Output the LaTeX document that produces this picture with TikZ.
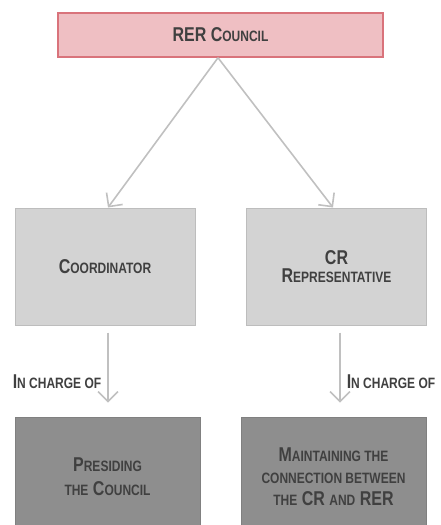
\documentclass[tikz,border=0pt]{standalone}
\usepackage{fontspec}
\newfontfamily\orgfont[FakeStretch=0.8]{Liberation Sans}
\usetikzlibrary{arrows.meta}
\definecolor{councilfill}{HTML}{EFBFC3}
\definecolor{councildraw}{HTML}{D9737B}
\definecolor{rolefill}{HTML}{D3D3D3}
\definecolor{roledraw}{HTML}{BDBDBD}
\definecolor{taskfill}{HTML}{8E8E8E}
\definecolor{linkgray}{HTML}{C0C0C0}
\definecolor{inkgray}{HTML}{404040}
% fake small caps: the rest of a word one size down
\newcommand{\scap}[1]{{\fontsize{15}{17}\selectfont #1}}
\tikzset{
council/.style={
       rectangle,
       fill=councilfill,
       draw=councildraw, line width=1.5pt,
       minimum width=325pt, minimum height=44pt,
       text=inkgray,
       font=\orgfont\bfseries\fontsize{20}{20}\selectfont,
       },
role/.style={
       rectangle,
       fill=rolefill,
       draw=roledraw, line width=1pt,
       minimum width=180pt, minimum height=117pt,
       align=center,
       text=inkgray,
       font=\orgfont\bfseries\fontsize{20}{18}\selectfont,
       },
task/.style={
       rectangle,
       fill=taskfill,
       draw=taskfill!90!black, line width=0.6pt,
       minimum width=185pt, minimum height=120pt,
       align=center,
       text=inkgray,
       font=\orgfont\bfseries\fontsize{20}{24}\selectfont,
       },
link/.style={
       draw=linkgray, line width=1.6pt,
       -{Straight Barb[length=10pt, width=20pt]},
       },
duty/.style={
       inner sep=0pt,
       text=inkgray,
       font=\orgfont\bfseries\fontsize{20}{20}\selectfont,
       },
}

\begin{document}
\begin{tikzpicture}[x=1pt, y=-1pt]
      \useasboundingbox (0,0) rectangle (441,525);

      \node [council] (council) at (220.5,35) {RER C\scap{OUNCIL}};

      \node [role] (coord) at (105,266.5) {C\scap{OORDINATOR}};
      \node [role] (crrep) at (336.5,266.5) {CR\\R\scap{EPRESENTATIVE}};

      \node [task] (presid) at (107.5,477) {P\scap{RESIDING}\\\scap{THE} C\scap{OUNCIL}};
      \node [task, font=\orgfont\bfseries\fontsize{20}{22}\selectfont] (maint) at (333.5,477)
            {M\scap{AINTAINING THE}\\\scap{CONNECTION BETWEEN}\\\scap{THE} CR \scap{AND} RER};

      % council to the two roles
      \draw [link] ([xshift=-2.5pt]council.south) -- ([xshift=3pt]coord.north);
      \draw [link] ([xshift=-2.5pt]council.south) -- ([xshift=-3.5pt]crrep.north);

      % roles to their tasks
      \foreach \r/\t/\dx/\side in {
          coord/presid/3/left,
          crrep/maint/3.5/right} {
          \draw [link, shorten <=7pt, shorten >=14pt] ([xshift=\dx pt]\r.south) -- ([xshift=\dx pt]\r.south |- \t.north)
              node [duty, pos=0.62, \side=6pt] {I\scap{N CHARGE OF}};
      }
\end{tikzpicture}
\end{document}
